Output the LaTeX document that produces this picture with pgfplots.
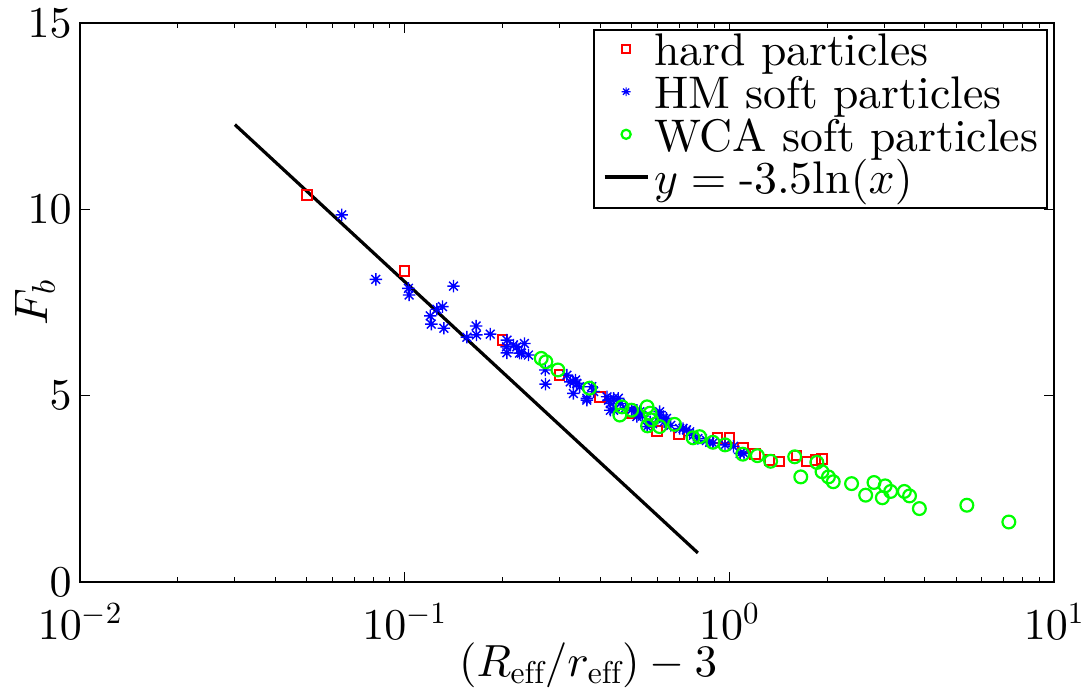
\documentclass[border=0pt]{standalone}
\usepackage{fontspec}
\setmainfont{lmroman10-regular.otf}[ItalicFont=lmroman10-italic.otf, BoldFont=lmroman10-bold.otf]
% one design size for the math fonts at every scale
\DeclareFontShape{OML}{cmm}{m}{it}{<->cmmi10}{}
\DeclareFontShape{OMS}{cmsy}{m}{n}{<->cmsy10}{}
\DeclareFontShape{OT1}{cmr}{m}{n}{<->cmr10}{}
\usepackage{pgfplots}
\pgfplotsset{compat=1.18}

% eight-armed asterisk (plus and cross overlaid)
\pgfdeclareplotmark{star8}{%
  \pgfpathmoveto{\pgfqpoint{0pt}{\pgfplotmarksize}}%
  \pgfpathlineto{\pgfqpoint{0pt}{-\pgfplotmarksize}}%
  \pgfpathmoveto{\pgfqpoint{\pgfplotmarksize}{0pt}}%
  \pgfpathlineto{\pgfqpoint{-\pgfplotmarksize}{0pt}}%
  \pgfpathmoveto{\pgfqpoint{0.7071\pgfplotmarksize}{0.7071\pgfplotmarksize}}%
  \pgfpathlineto{\pgfqpoint{-0.7071\pgfplotmarksize}{-0.7071\pgfplotmarksize}}%
  \pgfpathmoveto{\pgfqpoint{0.7071\pgfplotmarksize}{-0.7071\pgfplotmarksize}}%
  \pgfpathlineto{\pgfqpoint{-0.7071\pgfplotmarksize}{0.7071\pgfplotmarksize}}%
  \pgfusepathqstroke}

\newcommand\tickf{\fontsize{22}{26}\selectfont}
\newcommand\labf{\fontsize{22.5}{27}\selectfont}
\newcommand\ylabf{\fontsize{23.5}{28}\selectfont}
\newcommand\legf{\fontsize{22.85}{27}\selectfont}

\pgfplotstableread{
x y
0.05 10.38
0.1  8.35
0.2  6.50
0.3  5.55
0.4  4.96
0.5  4.53
0.6  4.05
0.7  3.96
0.92 3.86
1.0  3.87
1.1  3.60
1.2  3.44
1.33 3.27
1.42 3.23
1.61 3.39
1.73 3.23
1.84 3.27
1.93 3.30
}\hard

\pgfplotstableread{
x y
0.0640 9.85
0.0815 8.12
0.1027 7.88
0.1032 7.70
0.1414 7.94
0.1308 7.39
0.1257 7.32
0.1199 7.14
0.1208 6.92
0.1321 6.81
0.1555 6.57
0.1660 6.87
0.1665 6.63
0.1835 6.65
0.2065 6.49
0.2060 6.31
0.2065 6.15
0.2164 6.36
0.2214 6.31
0.2258 6.14
0.2290 6.14
0.2339 6.40
0.2406 6.09
0.2710 5.69
0.2716 5.31
0.3160 5.55
0.3236 5.37
0.3310 5.37
0.3360 5.42
0.3310 5.06
0.3386 5.33
0.3460 5.24
0.3640 4.88
0.3640 4.93
0.3770 5.24
0.3820 5.11
0.4200 4.97
0.4246 4.88
0.4300 4.79
0.4400 4.93
0.4300 4.61
0.4400 4.61
0.4550 4.93
0.4613 4.79
0.4800 4.68
0.5000 4.62
0.5190 4.44
0.5190 4.61
0.5300 4.57
0.5400 4.45
0.5580 4.17
0.5700 4.30
0.5800 4.25
0.6100 4.48
0.6100 4.57
0.6270 4.39
0.6300 4.30
0.6400 4.39
0.6600 4.20
0.7030 4.12
0.7200 4.12
0.7380 4.08
0.7550 4.03
0.7750 3.94
0.8000 3.85
0.8500 3.80
0.8700 3.75
0.8900 3.73
0.9700 3.68
1.0300 3.64
1.0800 3.45
1.1100 3.45
}\hm

\pgfplotstableread{
x y
0.2634 6.00
0.2722 5.91
0.2965 5.69
0.371  5.20
0.467  4.70
0.50   4.61
0.46   4.48
0.558  4.70
0.57   4.53
0.576  4.35
0.56   4.19
0.61   4.17
0.678  4.23
0.773  3.87
0.81   3.90
0.89   3.75
0.97   3.68
1.10   3.43
1.22   3.39
1.34   3.24
1.59   3.36
1.66   2.82
1.86   3.21
1.93   2.96
2.02   2.82
2.09   2.69
2.38   2.64
2.63   2.33
2.79   2.67
2.96   2.26
3.02   2.58
3.14   2.43
3.46   2.43
3.59   2.31
3.85   1.97
5.39   2.06
7.26   1.61
}\wca

\pgfplotstableread{
x y
0.03 12.273
0.8  0.781
}\fit

% legend samples
\pgfplotsset{
  hardleg/.style={legend image code/.code={%
    \draw[red, line width=1pt, mark=square, mark size=1.9pt] plot coordinates {(10.75pt,0.3em)};}},
  hmleg/.style={legend image code/.code={%
    \draw[blue, line width=0.6pt, mark=star8, mark size=2.2pt] plot coordinates {(10.75pt,0.3em)};}},
  wcaleg/.style={legend image code/.code={%
    \draw[green, line width=1.1pt, mark=o, mark size=2.3pt] plot coordinates {(10.75pt,0.3em)};}},
  fitleg/.style={legend image code/.code={%
    \draw[black, line width=1.6pt] (0pt,0.3em) -- (21.5pt,0.3em);}},
}

\begin{document}
\begin{tikzpicture}
\begin{axis}[
  xmode=log,
  scale only axis,
  width=487pt, height=279.5pt,
  xmin=1e-2, xmax=1e1,
  ymin=0, ymax=15,
  ytick={0,5,10,15},
  axis line style={line width=0.8pt},
  every tick/.append style={black, line width=0.5pt},
  major tick length=5pt, minor tick length=2.5pt,
  tick label style={font=\tickf},
  xticklabel style={inner sep=0pt, yshift=-10.5pt},
  yticklabel style={inner sep=0pt, xshift=-4pt},
  label style={font=\labf},
  xlabel={$(R_{\mathrm{eff}}/r_{\mathrm{eff}})-3$},
  ylabel={$F_b$},
  xlabel style={at={(axis description cs:0.5216,-0.1699)}, anchor=base, inner sep=0pt},
  ylabel style={font=\ylabf, at={(axis description cs:-0.0329,0.5)}, anchor=base, inner sep=0pt},
  legend cell align=left,
  legend style={at={(axis description cs:1,1)}, anchor=north east,
    xshift=-3pt, yshift=-3pt, font=\legf, draw=black, line width=0.8pt,
    inner xsep=4.5pt, inner ysep=2pt, row sep=0pt, column sep=2.5pt,
    nodes={inner sep=0pt, text height=16pt, text depth=5.3pt}},
]
\addplot[red, only marks, mark=square, mark size=2.4pt, line width=1pt, hardleg]
  table[x=x, y=y] {\hard};
\addlegendentry{hard particles}
\addplot[blue, only marks, mark=star8, mark size=3.1pt, line width=0.7pt, hmleg]
  table[x=x, y=y] {\hm};
\addlegendentry{HM soft particles}
\addplot[green, only marks, mark=o, mark size=3.2pt, line width=1.1pt, wcaleg]
  table[x=x, y=y] {\wca};
\addlegendentry{WCA soft particles}
\addplot[black, line width=1.6pt, fitleg]
  table[x=x, y=y] {\fit};
\addlegendentry{$y = \mbox{-3.5ln}(x)$}
\end{axis}
\pgfresetboundingbox
\path[use as bounding box] ([shift={(-40pt,-54.5pt)}]current axis.south west)
  rectangle ([shift={(18.5pt,11.5pt)}]current axis.north east);
\end{tikzpicture}
\end{document}
